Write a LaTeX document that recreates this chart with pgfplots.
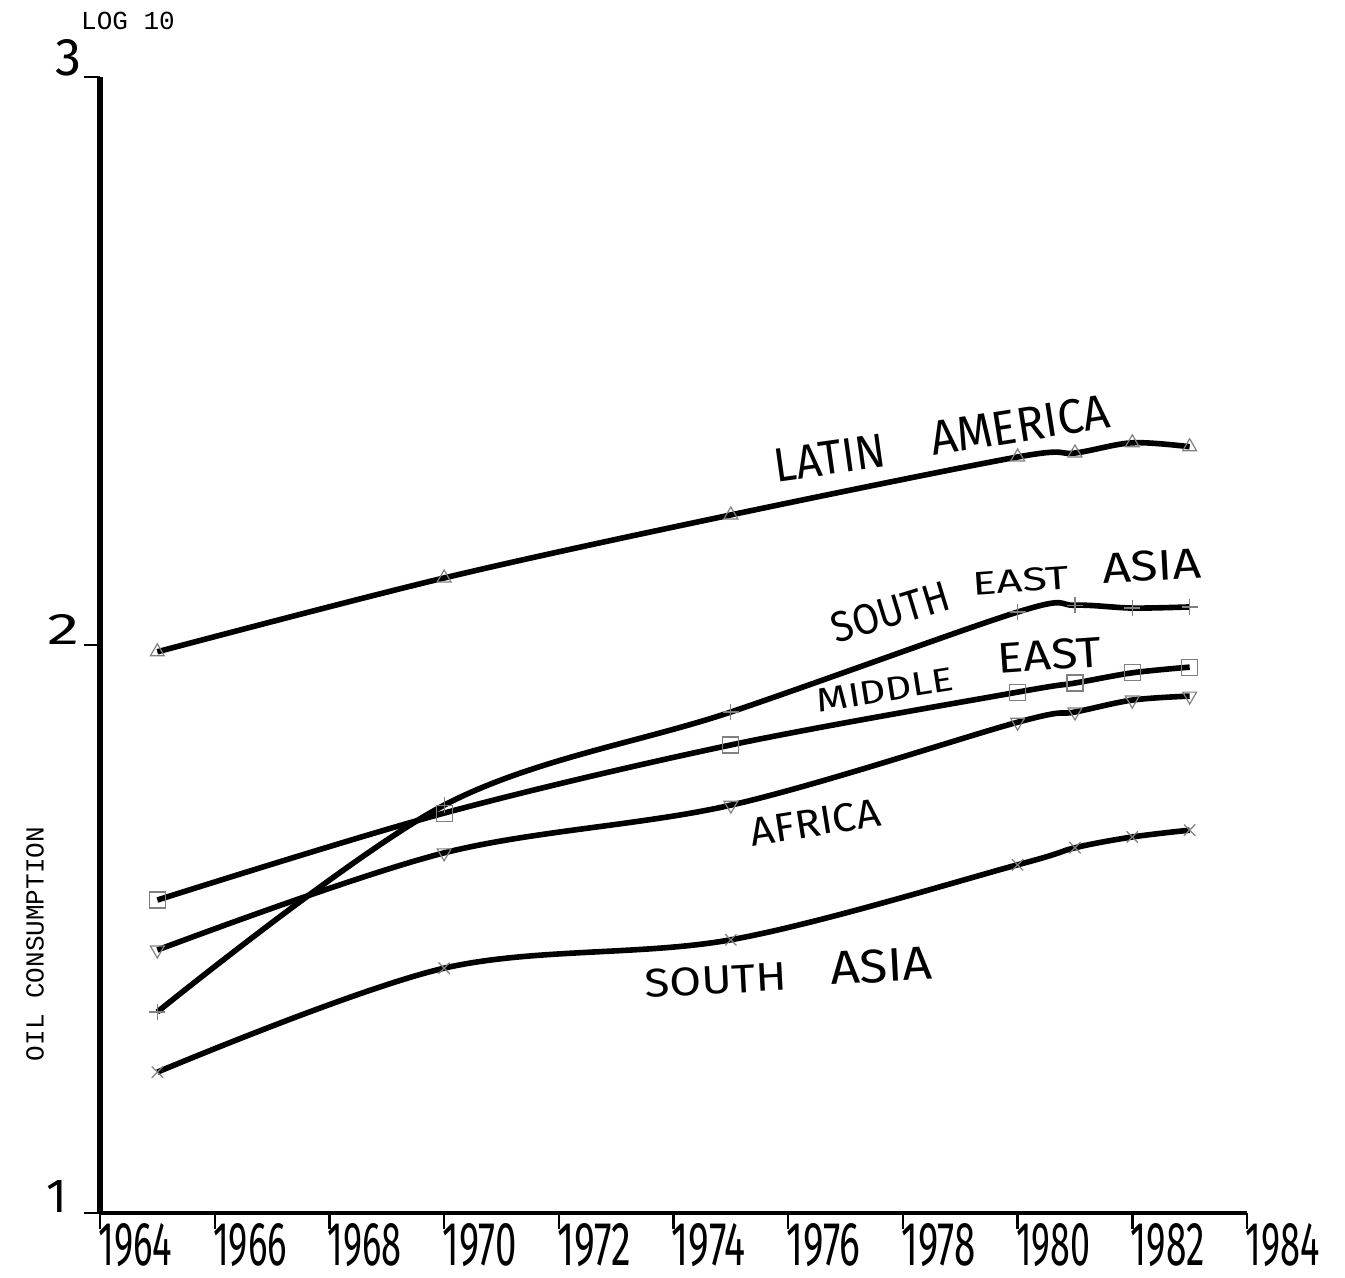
\documentclass[border=0pt]{standalone}
\usepackage{pgfplots}
\pgfplotsset{compat=1.18}
\usepackage{fontspec}
\setmainfont{Liberation Serif}
\newfontfamily\hand{Fira Sans}
\newfontfamily\tw{Liberation Mono}
\newcommand\xl[1]{\resizebox{37pt}{21pt}{\hand #1}}
\newcommand\lab[3]{\resizebox{#1}{#2}{\hand #3}}
\pgfplotsset{ser/.style={black, line width=2.8pt, smooth, tension=0.55, mark size=4pt}}
\begin{document}
\begin{tikzpicture}
\useasboundingbox (0,0) rectangle (672.5pt,639pt);
\begin{axis}[
 at={(50pt,32.5pt)}, anchor=south west,
 scale only axis, width=573.5pt, height=568pt,
 xmin=1964, xmax=1984, ymin=1, ymax=3,
 axis lines*=left,
 x axis line style={-, line width=1.6pt},
 y axis line style={-, line width=2.6pt},
 tick align=outside, major tick length=8pt,
 every tick/.style={black, line width=1.2pt},
 xtick={1964,1966,1968,1970,1972,1974,1976,1978,1980,1982,1984},
 xticklabels={\xl{1964},\xl{1966},\xl{1968},\xl{1970},\xl{1972},\xl{1974},\xl{1976},\xl{1978},\xl{1980},\xl{1982},\xl{1984}},
 xticklabel style={anchor=north west, inner sep=0pt, xshift=-1pt, yshift=3pt},
 ytick={1,2,3},
 yticklabels={{\lab{!}{16pt}{1}\kern8pt},{\lab{16pt}{15pt}{2}\kern2pt},{\lab{13pt}{18pt}{3}\kern1pt}},
 yticklabel style={anchor=south east, inner sep=0pt},
 clip=false,
]
\addplot[ser, mark=triangle, mark options={solid, draw=black!50, line width=0.6pt, fill=none}] coordinates {
(1965,1.988) (1970,2.118) (1975,2.229) (1980,2.331) (1981,2.338) (1982,2.356) (1983,2.349)};
\addplot[ser, mark=+, mark options={solid, draw=black!50, line width=0.6pt}] coordinates {
(1965,1.354) (1970,1.718) (1975,1.882) (1980,2.058) (1981,2.070) (1982,2.065) (1983,2.067)};
\addplot[ser, mark=square, mark options={solid, draw=black!50, line width=0.6pt, fill=none}] coordinates {
(1965,1.551) (1970,1.704) (1975,1.824) (1980,1.917) (1981,1.933) (1982,1.951) (1983,1.961)};
\addplot[ser, mark=triangle, mark options={solid, draw=black!50, line width=0.6pt, fill=none, rotate=180}] coordinates {
(1965,1.463) (1970,1.634) (1975,1.718) (1980,1.864) (1981,1.882) (1982,1.903) (1983,1.910)};
\addplot[ser, mark=x, mark options={solid, draw=black!50, line width=0.6pt}] coordinates {
(1965,1.248) (1970,1.431) (1975,1.481) (1980,1.613) (1981,1.643) (1982,1.662) (1983,1.674)};
% Latin America
\node[rotate=8, inner sep=0pt] at (axis cs:1976.73,2.329) {\lab{56pt}{16.5pt}{LATIN}};
\node[rotate=9, inner sep=0pt] at (axis cs:1980.04,2.387) {\lab{90.5pt}{17pt}{AMERICA}};
% South East Asia
\node[rotate=17, inner sep=0pt] at (axis cs:1977.78,2.058) {\lab{60.5pt}{15pt}{SOUTH}};
\node[rotate=4, inner sep=0pt] at (axis cs:1980.06,2.113) {\lab{48.5pt}{11.5pt}{EAST}};
\node[rotate=3, inner sep=0pt] at (axis cs:1982.34,2.139) {\lab{49.5pt}{15pt}{ASIA}};
% Middle East
\node[rotate=9, inner sep=0pt] at (axis cs:1977.69,1.921) {\lab{69pt}{11.5pt}{MIDDLE}};
\node[rotate=4, inner sep=0pt] at (axis cs:1980.56,1.982) {\lab{52pt}{15pt}{EAST}};
% Africa
\node[rotate=9, inner sep=0pt] at (axis cs:1976.47,1.688) {\lab{65.5pt}{14pt}{AFRICA}};
% South Asia
\node[rotate=3, inner sep=0pt] at (axis cs:1974.74,1.410) {\lab{71pt}{14pt}{SOUTH}};
\node[rotate=3, inner sep=0pt] at (axis cs:1977.62,1.435) {\lab{51pt}{16.5pt}{ASIA}};
\node[rotate=90, font=\tw\fontsize{13}{13}\selectfont] at (rel axis cs:-0.0567,0.2368) {OIL CONSUMPTION};
\node[font=\tw\fontsize{13}{13}\selectfont] at (rel axis cs:0.0244,1.0493) {LOG 10};
\end{axis}
\end{tikzpicture}
\end{document}
